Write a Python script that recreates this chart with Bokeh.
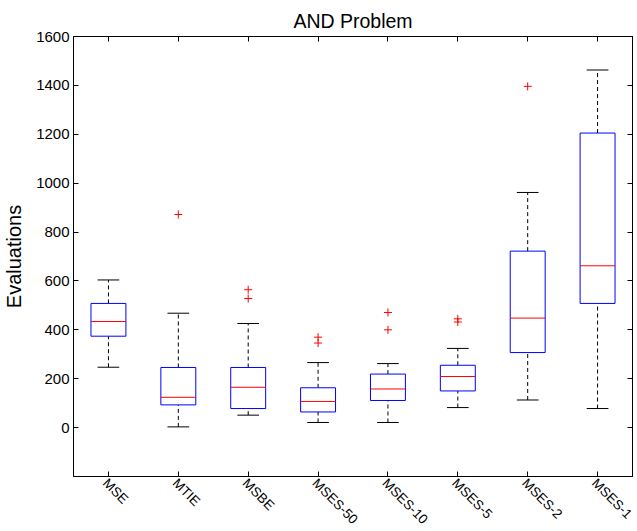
import math
from bokeh.plotting import figure
from bokeh.models import (ColumnDataSource, FactorRange, Range1d, FixedTicker,
                          LinearAxis, CategoricalAxis, CustomLabelingPolicy)
from bokeh.transform import dodge
from bokeh.core.properties import value
from bokeh.embed import file_html
from bokeh.resources import INLINE

# ---- data ----
cats = ["MSE", "MTIE", "MSBE", "MSES-50", "MSES-10", "MSES-5", "MSES-2", "MSES-1"]
lower = [247, 3, 51, 21, 21, 82, 113, 78]
q1 = [374, 93, 78, 64, 111, 150, 307, 508]
median = [434, 124, 165, 107, 158, 209, 448, 662]
q3 = [508, 246, 246, 163, 219, 255, 722, 1205]
upper = [604, 468, 426, 266, 262, 324, 962, 1463]
outlier_cat = ["MTIE", "MSBE", "MSBE", "MSES-50", "MSES-50", "MSES-10", "MSES-10",
               "MSES-5", "MSES-5", "MSES-2"]
outlier_val = [872, 564, 528, 370, 346, 471, 400, 445, 432, 1396]
y_ticks = [0, 200, 400, 600, 800, 1000, 1200, 1400, 1600]
y_start, y_end = -200, 1600

FONT = "Liberation Sans"

src = ColumnDataSource(dict(cat=cats, lower=lower, q1=q1, median=median, q3=q3, upper=upper,
                            lab_y=[y_start] * len(cats)))
osrc = ColumnDataSource(dict(cat=outlier_cat, val=outlier_val))

p = figure(width=634, height=528, x_range=FactorRange(factors=cats),
           y_range=Range1d(y_start, y_end), output_backend="svg", toolbar_location=None,
           title="AND Problem", min_border_left=72, min_border_top=36,
           min_border_right=2, min_border_bottom=52)

p.title.align = "center"
p.title.text_font = FONT
p.title.text_font_size = "19.5px"
p.title.text_font_style = "normal"
p.title.text_color = "black"
p.title.standoff = 9

p.xgrid.visible = False
p.ygrid.visible = False
p.outline_line_color = "black"
p.outline_line_width = 1
p.background_fill_color = "white"
p.border_fill_color = "white"

# whiskers (dashed)
p.segment(x0="cat", y0="q3", x1="cat", y1="upper", source=src, line_color="black",
          line_dash="4 3", line_width=1)
p.segment(x0="cat", y0="lower", x1="cat", y1="q1", source=src, line_color="black",
          line_dash="4 3", line_width=1)
# caps
p.segment(x0=dodge("cat", -0.155, range=p.x_range), y0="upper",
          x1=dodge("cat", 0.155, range=p.x_range), y1="upper", source=src,
          line_color="black", line_width=1)
p.segment(x0=dodge("cat", -0.155, range=p.x_range), y0="lower",
          x1=dodge("cat", 0.155, range=p.x_range), y1="lower", source=src,
          line_color="black", line_width=1)
# boxes
p.vbar(x="cat", width=0.5, bottom="q1", top="q3", source=src, fill_color="white",
       line_color="#0000ff", line_width=1)
# medians
p.segment(x0=dodge("cat", -0.25, range=p.x_range), y0="median",
          x1=dodge("cat", 0.25, range=p.x_range), y1="median", source=src,
          line_color="#ff0000", line_width=1)
# outliers
p.scatter(x="cat", y="val", source=osrc, marker="cross", size=8,
          line_color="#ff0000", line_width=1)

# axes styling
for ax in [p.xaxis[0], p.yaxis[0]]:
    ax.axis_line_color = "black"
    ax.major_tick_line_color = "black"
    ax.major_tick_in = 5
    ax.major_tick_out = 0
    ax.minor_tick_line_color = None
    ax.major_label_text_font = FONT
    ax.major_label_text_color = "black"

p.yaxis[0].ticker = FixedTicker(ticks=y_ticks)
p.yaxis[0].major_label_text_font_size = "15px"
p.yaxis[0].major_label_standoff = 4
p.yaxis[0].axis_label = "Evaluations"
p.yaxis[0].axis_label_text_font = FONT
p.yaxis[0].axis_label_text_font_size = "20px"
p.yaxis[0].axis_label_text_font_style = "normal"
p.yaxis[0].axis_label_text_color = "black"
p.yaxis[0].axis_label_standoff = 8

# category labels: rotated, drawn below the frame at each category position
p.xaxis[0].major_label_policy = CustomLabelingPolicy(code="return new Set()")
p.xaxis[0].major_label_text_font_size = "0px"
p.xaxis[0].major_label_standoff = 0
lab = p.text(x="cat", y="lab_y", text="cat", source=src, angle=-math.pi / 4,
             text_align="left", text_baseline="top", x_offset=2, y_offset=-1,
             text_font=value(FONT), text_font_size="13.5px", text_color="black")
lab.level = "annotation"

# right & top axes (box ticks, no labels)
ra = LinearAxis(ticker=FixedTicker(ticks=y_ticks), major_tick_in=5, major_tick_out=0,
                minor_tick_line_color=None, axis_line_color="black",
                major_label_text_font_size="0px", major_label_standoff=0,
                major_label_policy=CustomLabelingPolicy(code="return new Set()"))
p.add_layout(ra, "right")
ta = CategoricalAxis(major_tick_in=5, major_tick_out=0, axis_line_color="black",
                     major_label_text_font_size="0px", major_label_standoff=0,
                     major_label_policy=CustomLabelingPolicy(code="return new Set()"))
p.add_layout(ta, "above")

open("out.html", "w").write(file_html(p, INLINE))
